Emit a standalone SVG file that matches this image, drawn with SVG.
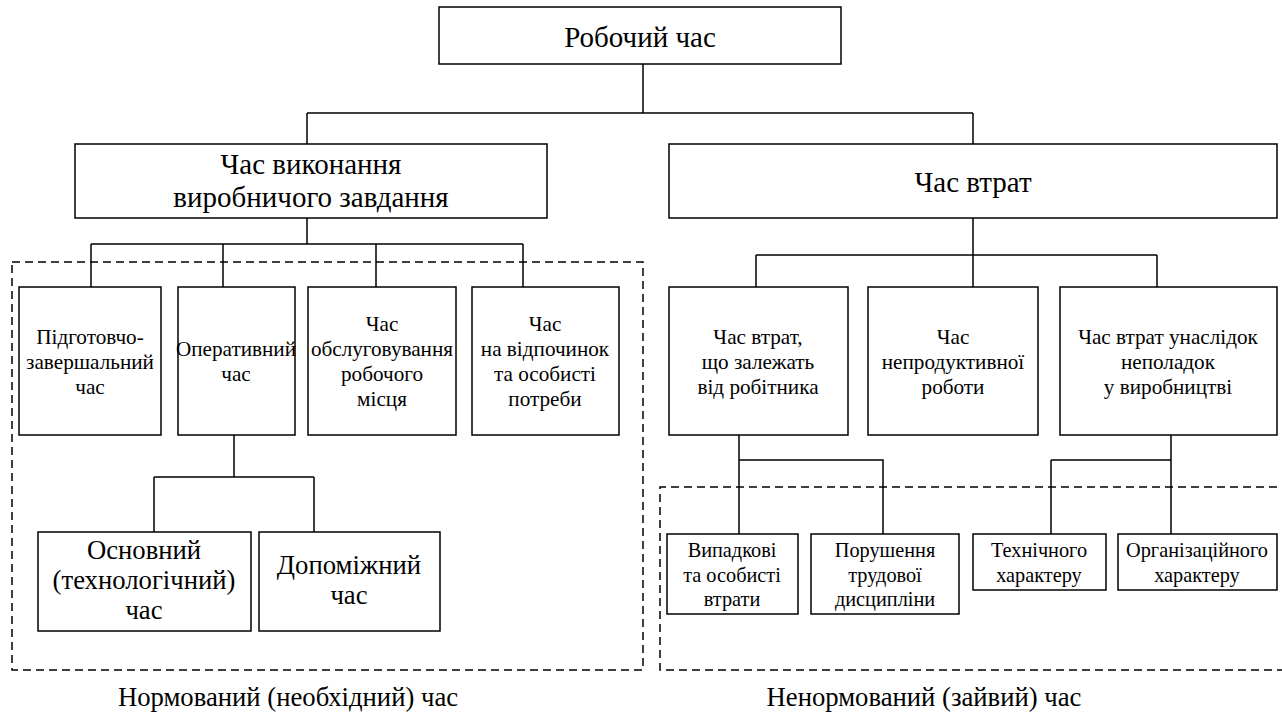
<svg xmlns="http://www.w3.org/2000/svg" width="1282" height="712" viewBox="0 0 1282 712">
<style>
.box{fill:#fff;stroke:#000;stroke-width:1.5}
.con{fill:none;stroke:#000;stroke-width:1.5}
.dash{fill:none;stroke:#000;stroke-width:1.5;stroke-dasharray:8 5}
text{font-family:"Liberation Serif","Times New Roman",serif;fill:#000;text-anchor:middle}
.t28{font-size:29px}
.t26{font-size:26.7px}
.t21{font-size:21.2px}
.t20{font-size:20.3px}
</style>
<rect width="1282" height="712" fill="#fff"/>
<g id="regions">
<rect class="dash" x="12" y="262" width="631" height="408"/>
<path class="dash" d="M1290,487 H660 V670 H1290"/>
</g>
<g id="connectors">
<path class="con" d="M643,64 V113 M307,113 H973 M307,113 V144 M973,113 V144"/>
<path class="con" d="M307,218 V244 M91,244 H523 M91,244 V287 M223,244 V287 M376,244 V287 M523,244 V287"/>
<path class="con" d="M234,435 V477 M154,477 H314 M154,477 V532 M314,477 V532"/>
<path class="con" d="M973,218 V255 M756,255 H1157 M756,255 V287 M973,255 V287 M1157,255 V287"/>
<path class="con" d="M739,435 V534 M739,460 H883 V534"/>
<path class="con" d="M1171,435 V534 M1051,460 H1171 M1051,460 V534"/>
</g>
<g id="n-root"><rect class="box" x="439" y="7" width="402" height="57"/><text class="t28" x="640" y="47">Робочий час</text></g>
<g id="n-vykon"><rect class="box" x="75" y="144" width="472" height="74"/><text class="t28" x="311" y="174">Час виконання</text><text class="t28" x="311" y="207">виробничого завдання</text></g>
<g id="n-vtrat"><rect class="box" x="669" y="144" width="608" height="74"/><text class="t28" x="973" y="192">Час втрат</text></g>
<g id="n-pidg"><rect class="box" x="19" y="287" width="142" height="148"/><text class="t21" x="90" y="344">Підготовчо-</text><text class="t21" x="90" y="369">завершальний</text><text class="t21" x="90" y="394">час</text></g>
<g id="n-oper"><rect class="box" x="178" y="287" width="117" height="148"/><text class="t21" x="236" y="356">Оперативний</text><text class="t21" x="236" y="381">час</text></g>
<g id="n-obsl"><rect class="box" x="308" y="287" width="148" height="148"/><text class="t21" x="382" y="331">Час</text><text class="t21" x="382" y="356">обслуговування</text><text class="t21" x="382" y="381">робочого</text><text class="t21" x="382" y="406">місця</text></g>
<g id="n-vidp"><rect class="box" x="472" y="287" width="147" height="148"/><text class="t21" x="545" y="331">Час</text><text class="t21" x="545" y="356">на відпочинок</text><text class="t21" x="545" y="381">та особисті</text><text class="t21" x="545" y="406">потреби</text></g>
<g id="n-osn"><rect class="box" x="38" y="532" width="213" height="99"/><text class="t26" x="144" y="559">Основний</text><text class="t26" x="144" y="589">(технологічний)</text><text class="t26" x="144" y="619">час</text></g>
<g id="n-dop"><rect class="box" x="259" y="532" width="181" height="99"/><text class="t26" x="349" y="574">Допоміжний</text><text class="t26" x="349" y="604">час</text></g>
<g id="n-zal"><rect class="box" x="669" y="287" width="179" height="148"/><text class="t21" x="758" y="344">Час втрат,</text><text class="t21" x="758" y="369">що залежать</text><text class="t21" x="758" y="394">від робітника</text></g>
<g id="n-neprod"><rect class="box" x="868" y="287" width="170" height="148"/><text class="t21" x="953" y="344">Час</text><text class="t21" x="953" y="369">непродуктивної</text><text class="t21" x="953" y="394">роботи</text></g>
<g id="n-nepol"><rect class="box" x="1060" y="287" width="217" height="148"/><text class="t21" x="1168" y="344">Час втрат унаслідок</text><text class="t21" x="1168" y="369">неполадок</text><text class="t21" x="1168" y="394">у виробництві</text></g>
<g id="n-vypad"><rect class="box" x="667" y="534" width="131" height="80"/><text class="t20" x="732" y="557">Випадкові</text><text class="t20" x="732" y="582">та особисті</text><text class="t20" x="732" y="606">втрати</text></g>
<g id="n-porush"><rect class="box" x="811" y="534" width="148" height="80"/><text class="t20" x="885" y="557">Порушення</text><text class="t20" x="885" y="582">трудової</text><text class="t20" x="885" y="606">дисципліни</text></g>
<g id="n-tekh"><rect class="box" x="973" y="534" width="133" height="56"/><text class="t20" x="1039" y="557">Технічного</text><text class="t20" x="1039" y="582">характеру</text></g>
<g id="n-org"><rect class="box" x="1118" y="534" width="159" height="56"/><text class="t20" x="1197" y="557">Організаційного</text><text class="t20" x="1197" y="582">характеру</text></g>
<g id="captions">
<text class="t26" x="288" y="706">Нормований (необхідний) час</text>
<text class="t26" x="924" y="706">Ненормований (зайвий) час</text>
</g>
</svg>
